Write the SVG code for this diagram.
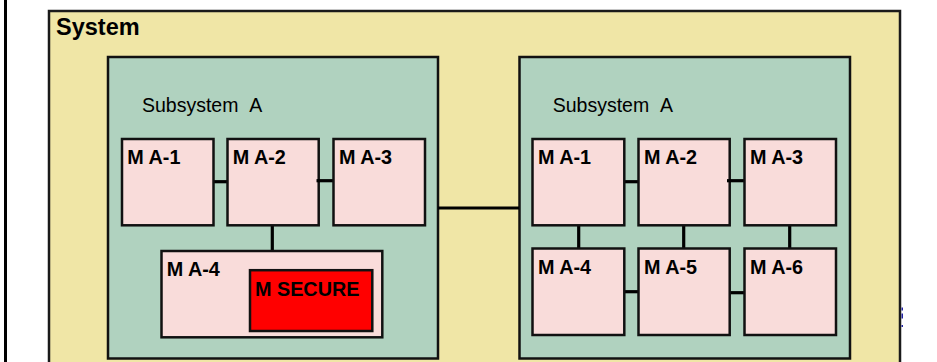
<svg xmlns="http://www.w3.org/2000/svg" width="937" height="362" viewBox="0 0 937 362">
  <style>
    .sys { fill: #F0E6A6; stroke: #1a1a1a; stroke-width: 2.5; }
    .sub { fill: #B0D2BF; stroke: #111; stroke-width: 2.5; }
    .mod { fill: #F9DCDA; stroke: #111; stroke-width: 2.5; }
    .sec { fill: #FF0000; stroke: #111; stroke-width: 2.5; }
    .link { stroke: #000; stroke-width: 3.2; fill: none; }
    .lbl { font-family: "Liberation Sans", Arial, sans-serif; font-weight: bold; font-size: 19.8px; fill: #000; }
    .sublbl { font-family: "Liberation Sans", Arial, sans-serif; font-size: 19.5px; fill: #000; word-spacing: 6.5px; }
    .syslbl { font-family: "Liberation Sans", Arial, sans-serif; font-weight: bold; font-size: 23.5px; fill: #000; }
  </style>

  <rect width="937" height="362" fill="#FFFFFF"/>

  <!-- outer frame line on the left -->
  <rect x="4" y="0" width="3" height="362" fill="#000"/>

  <!-- System container -->
  <g id="system">
    <rect class="sys" x="49" y="11" width="851" height="360"/>
    <text class="syslbl" x="56" y="35">System</text>
  </g>

  <!-- Subsystem A (left) -->
  <g id="subsystem-left">
    <rect class="sub" x="108" y="57" width="330" height="301.5"/>
    <text class="sublbl" x="142" y="111.7">Subsystem A</text>
  </g>

  <!-- Subsystem A (right) -->
  <g id="subsystem-right">
    <rect class="sub" x="519.5" y="57" width="330.5" height="301.5"/>
    <text class="sublbl" x="552.7" y="111.7">Subsystem A</text>
  </g>

  <!-- connectors -->
  <g id="connectors">
    <!-- between subsystems -->
    <line class="link" x1="438" y1="208" x2="519" y2="208"/>
    <!-- left subsystem -->
    <line class="link" x1="213" y1="181.7" x2="227.5" y2="181.7"/>
    <line class="link" x1="316.5" y1="180.7" x2="333.5" y2="180.7"/>
    <line class="link" x1="272.3" y1="225" x2="272.3" y2="251"/>
    <!-- right subsystem -->
    <line class="link" x1="624" y1="181.7" x2="638.5" y2="181.7"/>
    <line class="link" x1="727" y1="180.7" x2="744.5" y2="180.7"/>
    <line class="link" x1="578.7" y1="225" x2="578.7" y2="248.5"/>
    <line class="link" x1="683.7" y1="225" x2="683.7" y2="248.5"/>
    <line class="link" x1="789.7" y1="225" x2="789.7" y2="248.5"/>
    <line class="link" x1="624" y1="291.7" x2="638.5" y2="291.7"/>
    <line class="link" x1="729.5" y1="292.7" x2="744.5" y2="292.7"/>
  </g>

  <!-- modules, left subsystem -->
  <g id="l-ma1">
    <rect class="mod" x="122" y="139" width="91.5" height="86.3"/>
    <text class="lbl" x="127.3" y="164.3">M A-1</text>
  </g>
  <g id="l-ma2">
    <rect class="mod" x="227.5" y="139" width="91.2" height="86.3"/>
    <text class="lbl" x="232.7" y="164.3">M A-2</text>
  </g>
  <g id="l-ma3">
    <rect class="mod" x="333.5" y="139" width="91.5" height="86.3"/>
    <text class="lbl" x="339" y="164.3">M A-3</text>
  </g>
  <g id="l-ma4">
    <rect class="mod" x="161.5" y="251" width="220.8" height="86.3"/>
    <text class="lbl" x="166.7" y="276">M A-4</text>
  </g>
  <g id="l-secure">
    <rect class="sec" x="250" y="270.2" width="122.3" height="60.8"/>
    <text class="lbl" x="255" y="295.7">M SECURE</text>
  </g>

  <!-- modules, right subsystem -->
  <g id="r-ma1">
    <rect class="mod" x="532.5" y="139" width="91.8" height="86.3"/>
    <text class="lbl" x="538" y="164.3">M A-1</text>
  </g>
  <g id="r-ma2">
    <rect class="mod" x="638.5" y="139" width="91.2" height="86.3"/>
    <text class="lbl" x="644" y="164.3">M A-2</text>
  </g>
  <g id="r-ma3">
    <rect class="mod" x="744.5" y="139" width="91.5" height="86.3"/>
    <text class="lbl" x="750" y="164.3">M A-3</text>
  </g>
  <g id="r-ma4">
    <rect class="mod" x="532.5" y="248.5" width="91.8" height="86.5"/>
    <text class="lbl" x="538" y="274.3">M A-4</text>
  </g>
  <g id="r-ma5">
    <rect class="mod" x="638.5" y="248.5" width="91.2" height="86.5"/>
    <text class="lbl" x="644" y="274.3">M A-5</text>
  </g>
  <g id="r-ma6">
    <rect class="mod" x="744.5" y="248.5" width="91.5" height="86.5"/>
    <text class="lbl" x="750" y="274.3">M A-6</text>
  </g>

  <!-- short stubs that cross into the module borders -->
  <g id="connector-stubs">
    <line class="link" x1="316.5" y1="180.7" x2="320" y2="180.7"/>
    <line class="link" x1="727" y1="180.7" x2="731" y2="180.7"/>
  </g>

  <!-- small blue marks just outside the system border -->
  <g fill="#2020A0">
    <rect x="901.5" y="307.5" width="1.5" height="3"/>
    <rect x="901.5" y="313.5" width="1.5" height="5"/>
    <rect x="901.5" y="325" width="1.5" height="2"/>
  </g>
</svg>
